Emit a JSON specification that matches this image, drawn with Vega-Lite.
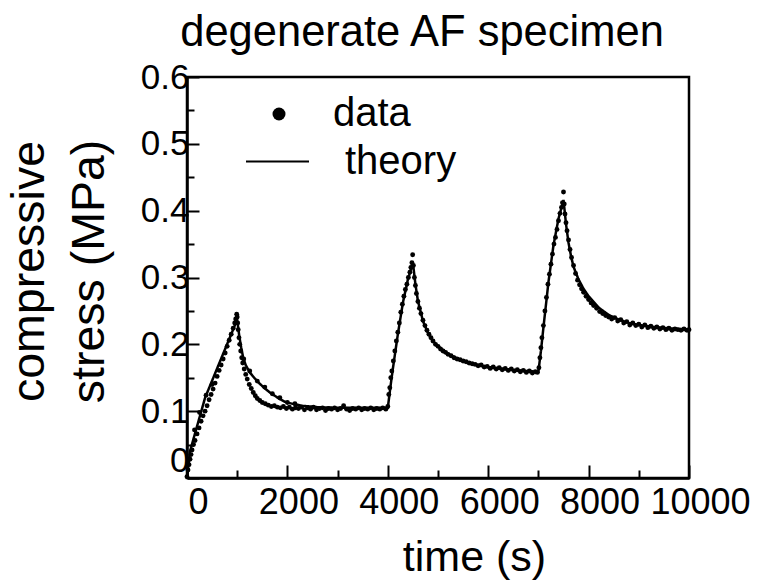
{
  "$schema": "https://vega.github.io/schema/vega-lite/v6.json",
  "autosize": {"type": "none"},
  "padding": {"left": 187, "top": 77, "right": 72, "bottom": 107},
  "width": 502,
  "height": 401,
  "background": "white",
  "title": {"text": "degenerate AF specimen", "font": "Liberation Sans", "fontSize": 43.5, "fontWeight": "normal", "color": "black", "anchor": "middle", "dx": -16, "offset": 5},
  "config": {
    "view": {"stroke": "black", "strokeWidth": 2.5},
    "font": "Liberation Sans"
  },
  "datasets": {
    "measured": [
      {"t":0,"s":0.002},{"t":20,"s":0.012},{"t":40,"s":0.02},{"t":60,"s":0.028},{"t":80,"s":0.035},{"t":100,"s":0.042},{"t":130,"s":0.05},{"t":150,"s":0.072},{"t":160,"s":0.056},{"t":200,"s":0.066},{"t":240,"s":0.075},{"t":250,"s":0.098},{"t":280,"s":0.085},{"t":320,"s":0.093},{"t":360,"s":0.1},{"t":380,"s":0.124},{"t":400,"s":0.108},{"t":440,"s":0.117},{"t":480,"s":0.125},{"t":500,"s":0.14},{"t":520,"s":0.133},{"t":560,"s":0.142},{"t":600,"s":0.152},{"t":640,"s":0.161},{"t":680,"s":0.169},{"t":720,"s":0.178},{"t":760,"s":0.187},{"t":800,"s":0.197},{"t":840,"s":0.206},{"t":880,"s":0.215},{"t":920,"s":0.224},{"t":950,"s":0.232},{"t":970,"s":0.238},{"t":990,"s":0.245},{"t":1000,"s":0.241},
      {"t":1010,"s":0.232},{"t":1020,"s":0.222},{"t":1035,"s":0.21},{"t":1050,"s":0.2},{"t":1070,"s":0.19},{"t":1090,"s":0.18},{"t":1110,"s":0.172},{"t":1130,"s":0.178},{"t":1140,"s":0.163},{"t":1170,"s":0.155},{"t":1200,"s":0.148},{"t":1240,"s":0.14},{"t":1250,"s":0.16},{"t":1280,"s":0.134},{"t":1320,"s":0.128},{"t":1360,"s":0.123},{"t":1400,"s":0.119},{"t":1400,"s":0.145},{"t":1450,"s":0.116},{"t":1500,"s":0.113},{"t":1550,"s":0.136},{"t":1560,"s":0.111},{"t":1620,"s":0.109},{"t":1680,"s":0.107},{"t":1700,"s":0.126},{"t":1740,"s":0.108},{"t":1800,"s":0.106},{"t":1850,"s":0.12},{"t":1860,"s":0.105},{"t":1920,"s":0.107},{"t":1980,"s":0.104},{"t":2000,"s":0.113},{"t":2040,"s":0.106},{"t":2100,"s":0.103},{"t":2150,"s":0.111},{"t":2160,"s":0.105},{"t":2220,"s":0.104},{"t":2280,"s":0.106},{"t":2340,"s":0.102},{"t":2400,"s":0.105},{"t":2460,"s":0.103},{"t":2520,"s":0.106},{"t":2580,"s":0.102},{"t":2640,"s":0.104},{"t":2700,"s":0.105},{"t":2760,"s":0.101},{"t":2820,"s":0.104},{"t":2880,"s":0.103},{"t":2940,"s":0.105},{"t":3000,"s":0.102},{"t":3060,"s":0.104},{"t":3120,"s":0.108},{"t":3180,"s":0.103},{"t":3240,"s":0.101},{"t":3300,"s":0.104},{"t":3360,"s":0.103},{"t":3420,"s":0.105},{"t":3480,"s":0.102},{"t":3540,"s":0.104},{"t":3600,"s":0.103},{"t":3660,"s":0.105},{"t":3720,"s":0.102},{"t":3780,"s":0.104},{"t":3840,"s":0.103},{"t":3900,"s":0.105},{"t":3960,"s":0.103},
      {"t":4000,"s":0.107},{"t":4020,"s":0.125},{"t":4040,"s":0.135},{"t":4060,"s":0.15},{"t":4080,"s":0.16},{"t":4110,"s":0.175},{"t":4140,"s":0.19},{"t":4170,"s":0.205},{"t":4200,"s":0.218},{"t":4230,"s":0.232},{"t":4260,"s":0.248},{"t":4290,"s":0.26},{"t":4320,"s":0.272},{"t":4350,"s":0.282},{"t":4380,"s":0.29},{"t":4410,"s":0.3},{"t":4440,"s":0.308},{"t":4460,"s":0.315},{"t":4480,"s":0.322},{"t":4495,"s":0.334},{"t":4510,"s":0.318},
      {"t":4530,"s":0.3},{"t":4550,"s":0.288},{"t":4570,"s":0.276},{"t":4600,"s":0.264},{"t":4630,"s":0.254},{"t":4660,"s":0.246},{"t":4700,"s":0.236},{"t":4740,"s":0.228},{"t":4780,"s":0.221},{"t":4820,"s":0.215},{"t":4860,"s":0.21},{"t":4900,"s":0.205},{"t":4950,"s":0.2},{"t":5000,"s":0.197},{"t":5050,"s":0.193},{"t":5100,"s":0.19},{"t":5150,"s":0.188},{"t":5200,"s":0.185},{"t":5260,"s":0.183},{"t":5320,"s":0.18},{"t":5380,"s":0.178},{"t":5440,"s":0.177},{"t":5500,"s":0.175},{"t":5560,"s":0.174},{"t":5620,"s":0.172},{"t":5680,"s":0.171},{"t":5740,"s":0.17},{"t":5800,"s":0.168},{"t":5860,"s":0.169},{"t":5920,"s":0.166},{"t":5980,"s":0.167},{"t":6040,"s":0.164},{"t":6100,"s":0.166},{"t":6160,"s":0.163},{"t":6220,"s":0.165},{"t":6280,"s":0.162},{"t":6340,"s":0.164},{"t":6400,"s":0.161},{"t":6460,"s":0.163},{"t":6520,"s":0.16},{"t":6580,"s":0.162},{"t":6640,"s":0.159},{"t":6700,"s":0.161},{"t":6760,"s":0.158},{"t":6820,"s":0.16},{"t":6880,"s":0.157},{"t":6940,"s":0.159},{"t":6980,"s":0.158},
      {"t":7010,"s":0.165},{"t":7030,"s":0.18},{"t":7050,"s":0.195},{"t":7070,"s":0.21},{"t":7100,"s":0.228},{"t":7130,"s":0.25},{"t":7160,"s":0.27},{"t":7190,"s":0.29},{"t":7220,"s":0.305},{"t":7250,"s":0.32},{"t":7280,"s":0.335},{"t":7310,"s":0.35},{"t":7340,"s":0.36},{"t":7370,"s":0.372},{"t":7400,"s":0.385},{"t":7430,"s":0.396},{"t":7460,"s":0.405},{"t":7480,"s":0.412},{"t":7500,"s":0.428},{"t":7515,"s":0.41},
      {"t":7530,"s":0.395},{"t":7550,"s":0.382},{"t":7570,"s":0.37},{"t":7600,"s":0.356},{"t":7630,"s":0.342},{"t":7660,"s":0.33},{"t":7700,"s":0.318},{"t":7740,"s":0.306},{"t":7780,"s":0.296},{"t":7820,"s":0.289},{"t":7860,"s":0.283},{"t":7900,"s":0.278},{"t":7950,"s":0.272},{"t":8000,"s":0.267},{"t":8050,"s":0.262},{"t":8100,"s":0.258},{"t":8160,"s":0.254},{"t":8220,"s":0.249},{"t":8280,"s":0.246},{"t":8340,"s":0.243},{"t":8400,"s":0.241},{"t":8460,"s":0.238},{"t":8520,"s":0.24},{"t":8580,"s":0.235},{"t":8640,"s":0.237},{"t":8700,"s":0.232},{"t":8760,"s":0.234},{"t":8820,"s":0.229},{"t":8880,"s":0.232},{"t":8940,"s":0.228},{"t":9000,"s":0.23},{"t":9060,"s":0.226},{"t":9120,"s":0.229},{"t":9180,"s":0.225},{"t":9240,"s":0.227},{"t":9300,"s":0.224},{"t":9360,"s":0.226},{"t":9420,"s":0.223},{"t":9480,"s":0.225},{"t":9540,"s":0.222},{"t":9600,"s":0.224},{"t":9660,"s":0.221},{"t":9720,"s":0.223},{"t":9780,"s":0.222},{"t":9840,"s":0.221},{"t":9900,"s":0.223},{"t":9960,"s":0.221},{"t":10000,"s":0.222}
    ],
    "theory": [
      {"t":0,"s":0},{"t":60,"s":0.04},{"t":360,"s":0.12},{"t":1000,"s":0.237},
      {"t":1040,"s":0.213},{"t":1080,"s":0.195},{"t":1120,"s":0.18},{"t":1170,"s":0.169},{"t":1250,"s":0.158},{"t":1350,"s":0.149},{"t":1450,"s":0.141},{"t":1550,"s":0.134},{"t":1650,"s":0.128},{"t":1750,"s":0.123},{"t":1850,"s":0.118},{"t":1950,"s":0.114},{"t":2100,"s":0.111},{"t":2300,"s":0.108},{"t":2600,"s":0.106},{"t":3000,"s":0.105},{"t":4000,"s":0.105},
      {"t":4050,"s":0.135},{"t":4100,"s":0.163},{"t":4200,"s":0.215},{"t":4300,"s":0.262},{"t":4400,"s":0.297},{"t":4500,"s":0.322},
      {"t":4550,"s":0.29},{"t":4600,"s":0.265},{"t":4700,"s":0.235},{"t":4800,"s":0.217},{"t":4900,"s":0.205},{"t":5000,"s":0.197},{"t":5200,"s":0.186},{"t":5400,"s":0.178},{"t":5600,"s":0.173},{"t":5800,"s":0.169},{"t":6000,"s":0.166},{"t":6300,"s":0.163},{"t":6600,"s":0.161},{"t":7000,"s":0.159},
      {"t":7050,"s":0.19},{"t":7100,"s":0.225},{"t":7200,"s":0.293},{"t":7300,"s":0.348},{"t":7400,"s":0.388},{"t":7500,"s":0.416},
      {"t":7550,"s":0.38},{"t":7600,"s":0.352},{"t":7650,"s":0.332},{"t":7700,"s":0.316},{"t":7800,"s":0.297},{"t":7900,"s":0.283},{"t":8000,"s":0.272},{"t":8200,"s":0.255},{"t":8400,"s":0.244},{"t":8600,"s":0.237},{"t":8800,"s":0.232},{"t":9000,"s":0.229},{"t":9300,"s":0.226},{"t":9600,"s":0.224},{"t":10000,"s":0.222}
    ]
  },
  "layer": [
    {
      "data": {"name": "measured"},
      "mark": {"type": "point", "filled": true, "color": "black", "size": 24, "opacity": 1},
      "encoding": {
        "x": {"field": "t", "type": "quantitative", "scale": {"domain": [0, 10000], "nice": false},
          "axis": {"orient": "bottom", "values": [0, 2000, 4000, 6000, 8000, 10000], "format": "d", "grid": false, "domainColor": "black", "domainWidth": 2.5, "tickColor": "black", "tickWidth": 2, "tickSize": -13, "labelPadding": 20, "labelOffset": 11, "labelFont": "Liberation Sans", "labelFontSize": 36, "labelColor": "black", "labelFlush": false, "labelOverlap": false,
            "title": "time (s)", "titleFont": "Liberation Sans", "titleFontSize": 43, "titleFontWeight": "normal", "titleColor": "black", "titleX": 287, "titleY": 92, "titleBaseline": "alphabetic", "titleAlign": "center"}},
        "y": {"field": "s", "type": "quantitative", "scale": {"domain": [0, 0.6], "nice": false},
          "axis": {"orient": "left", "values": [0, 0.1, 0.2, 0.3, 0.4, 0.5, 0.6], "labelExpr": "datum.value === 0 ? '0' : format(datum.value, '.1f')", "grid": false, "domainColor": "black", "domainWidth": 2.5, "tickColor": "black", "tickWidth": 2, "tickSize": -12, "labelPadding": 10, "labelFont": "Liberation Sans", "labelFontSize": 35, "labelColor": "black", "labelFlush": false, "labelOverlap": false,
            "labelBaseline": {"condition": {"test": "datum.value === 0", "value": "bottom"}, "value": "middle"},
            "title": ["compressive", "stress (MPa)"], "titleFont": "Liberation Sans", "titleFontSize": 46.5, "titleFontWeight": "normal", "titleColor": "black", "titleLineHeight": 60, "titleX": -144, "titleY": 194, "titleAngle": -90, "titleBaseline": "alphabetic", "titleAlign": "center"}},
        "shape": {"datum": "data", "scale": {"range": ["circle"]},
          "legend": {"orient": "none", "legendX": 72, "legendY": 17, "title": null, "padding": 0, "symbolSize": 169, "symbolFillColor": "black", "symbolStrokeColor": "black", "symbolStrokeWidth": 0, "labelOffset": 34, "labelFont": "Liberation Sans", "labelFontSize": 40, "labelColor": "black"}}
      }
    },
    {
      "data": {"name": "theory"},
      "mark": {"type": "line", "color": "black", "strokeWidth": 2.5},
      "encoding": {
        "x": {"field": "t", "type": "quantitative",
          "axis": {"orient": "bottom", "values": [1000, 3000, 5000, 7000, 9000], "grid": false, "domain": false, "labels": false, "title": null, "tickColor": "black", "tickWidth": 2, "tickSize": -8}},
        "y": {"field": "s", "type": "quantitative",
          "axis": {"orient": "left", "values": [0.05, 0.15, 0.25, 0.35, 0.45, 0.55], "grid": false, "domain": false, "labels": false, "title": null, "tickColor": "black", "tickWidth": 2, "tickSize": -7}},
        "strokeDash": {"datum": "theory", "scale": {"range": [[1, 0]]},
          "legend": {"orient": "none", "legendX": 58, "legendY": 52, "title": null, "padding": 0, "symbolType": "stroke", "symbolSize": 3969, "symbolStrokeColor": "black", "symbolStrokeWidth": 2, "labelOffset": 35, "labelFont": "Liberation Sans", "labelFontSize": 40, "labelColor": "black"}}
      }
    }
  ],
  "resolve": {"axis": {"x": "independent", "y": "independent"}}
}
